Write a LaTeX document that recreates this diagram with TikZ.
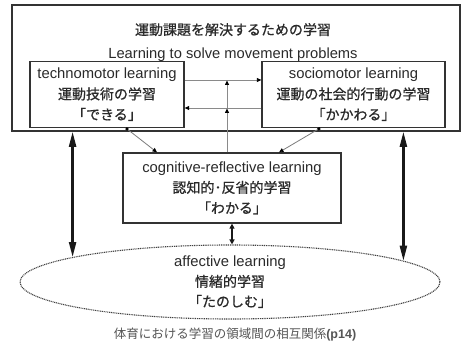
\documentclass[tikz,border=0pt]{standalone}
\usepackage{fontspec}
\setmainfont{Liberation Sans}
\newfontfamily\jp[FakeBold=0.7]{Noto Sans CJK JP}
\newfontfamily\jpthin{Noto Sans CJK JP}
\usetikzlibrary{arrows.meta,shapes.geometric}
\newcommand{\J}[1]{{\fontsize{14}{20.5}\jp #1}}
\definecolor{txt}{HTML}{2A2A2A}
\definecolor{frame}{HTML}{333333}
\definecolor{thin}{HTML}{8A8A8A}
\tikzset{
  box/.style={draw=frame, line width=1.3pt, fill=white, align=center, text=txt,
    inner sep=0pt, font=\fontsize{14.8}{20.5}\selectfont},
  thinarrow/.style={draw=thin, line width=0.8pt, -{Triangle[length=4.5pt,width=4pt,color=black]}},
  diagarrow/.style={draw=thin!90!black, line width=0.8pt,
    {Square[length=2.5pt,width=2.5pt,color=black]}-{Triangle[length=4.5pt,width=4pt,color=black]}},
  thickarrow/.style={draw=black!90, line width=2.2pt,
    {Triangle[length=15pt,width=7pt]}-{Triangle[length=15pt,width=7pt]}},
  shortarrow/.style={draw=black!90, line width=2pt,
    {Triangle[length=5pt,width=5pt]}-{Triangle[length=5pt,width=5pt]}},
  caption/.style={text=txt!80, font=\fontsize{12.5}{14}\selectfont}
}
\begin{document}
\begin{tikzpicture}[x=1pt,y=-1pt]
\useasboundingbox (0,0) rectangle (461,342);
\fill[white] (0,0) rectangle (461,342);
% outer box
\node[draw=frame, line width=1.6pt, minimum width=448pt, minimum height=126pt, inner sep=0pt] (outer) at (236,68) {};
\node[text=txt, align=center, font=\fontsize{14.7}{24}\selectfont] (title) at (233,42.5)
  {\J{運動課題を解決するための学習}\\Learning to solve movement problems};
% inner boxes
\node[box, minimum width=154pt, minimum height=66pt] (tm) at (107,94.5)
  {technomotor learning\\\J{運動技術の学習}\\\J{「できる」}};
\node[box, minimum width=183pt, minimum height=66pt] (sm) at (353.5,94.5)
  {sociomotor learning\\\J{運動の社会的行動の学習}\\\J{「かかわる」}};
\node[box, minimum width=218pt, minimum height=70pt] (cog) at (232,188)
  {cognitive-reflective learning\\\J{認知的･反省的学習}\\\J{「わかる」}};
\node[ellipse, draw=black!75, line width=1.1pt, dash pattern=on 1pt off 0.8pt,
  minimum width=420pt, minimum height=74pt, inner sep=0pt, align=center, text=txt,
  font=\fontsize{14.8}{20}\selectfont] (ell) at (230,282)
  {affective learning\\\J{情緒的学習}\\\J{「たのしむ」}};
\node[caption] (cap) at (235,335) {{\jpthin 体育における学習の領域間の相互関係}\textbf{(p14)}};
% horizontal arrows
\draw[thinarrow] ([yshift=14.5pt]tm.east) -- ([yshift=14.5pt]tm.east -| sm.west);
\draw[thinarrow] ([yshift=-13.5pt]sm.west) -- ([yshift=-13.5pt]sm.west -| tm.east);
% vertical thin arrows
\coordinate (v1) at (227,108.5);
\coordinate (v2) at (227,80.5);
\draw[thinarrow] (cog.north -| v1) -- (v1);
\draw[thinarrow] (v1) -- (v2);
% diagonals
\draw[diagarrow] ([xshift=19pt]tm.south) -- ([xshift=-75pt]cog.north);
\draw[diagarrow] ([xshift=-33.5pt]sm.south) -- ([xshift=47pt]cog.north);
% thick arrows
\draw[thickarrow] (ell.171.5) -- (ell.171.5 |- outer.south);
\draw[thickarrow] (ell.7.4) -- (ell.7.4 |- outer.south);
\draw[shortarrow] (cog.south) -- (cog.south |- ell.north);
\end{tikzpicture}
\end{document}
